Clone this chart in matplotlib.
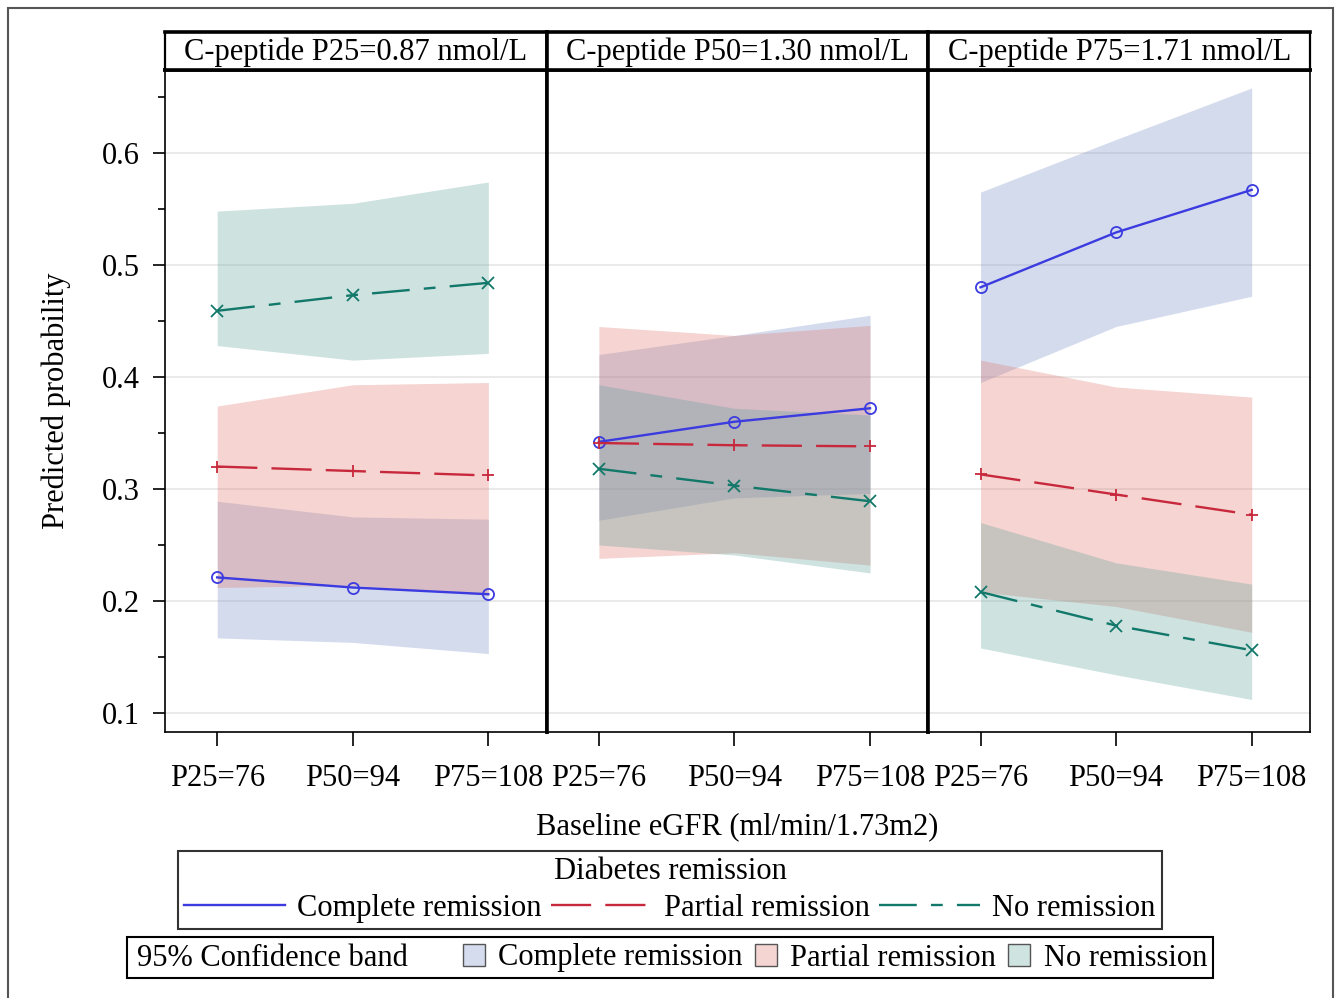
import matplotlib
matplotlib.use("Agg")
import matplotlib.pyplot as plt
from matplotlib.lines import Line2D
from matplotlib.patches import Patch, Rectangle
import numpy as np

plt.rcParams['font.family'] = ['Liberation Serif', 'DejaVu Serif']

# ---------------- data ----------------
panel_titles = ["C-peptide P25=0.87 nmol/L", "C-peptide P50=1.30 nmol/L", "C-peptide P75=1.71 nmol/L"]
x_labels = ["P25=76", "P50=94", "P75=108"]
groups = ["Complete remission", "Partial remission", "No remission"]

# predicted probability per panel (rows) and eGFR level (cols)
complete_est = [[0.221, 0.212, 0.206], [0.342, 0.360, 0.372], [0.480, 0.529, 0.567]]
complete_lo  = [[0.167, 0.163, 0.153], [0.272, 0.292, 0.296], [0.395, 0.445, 0.472]]
complete_hi  = [[0.289, 0.275, 0.273], [0.420, 0.437, 0.455], [0.565, 0.612, 0.658]]

partial_est = [[0.320, 0.316, 0.312], [0.341, 0.339, 0.338], [0.313, 0.295, 0.277]]
partial_lo  = [[0.212, 0.214, 0.205], [0.238, 0.243, 0.232], [0.208, 0.195, 0.172]]
partial_hi  = [[0.374, 0.393, 0.395], [0.445, 0.437, 0.446], [0.415, 0.391, 0.382]]

none_est = [[0.459, 0.473, 0.484], [0.318, 0.303, 0.289], [0.208, 0.178, 0.156]]
none_lo  = [[0.428, 0.415, 0.421], [0.250, 0.241, 0.225], [0.158, 0.134, 0.112]]
none_hi  = [[0.548, 0.555, 0.574], [0.393, 0.372, 0.366], [0.270, 0.234, 0.215]]

y_ticks = [0.1, 0.2, 0.3, 0.4, 0.5, 0.6]

# ---------------- style ----------------
line_colors = ["#3b3be0", "#c8283c", "#11786a"]
band_colors = ["#738ac6", "#de7369", "#5fa29b"]
band_alpha = 0.3
LW = 1.7
dash_styles = ["-", (0, (17, 6)), (0, (16, 6, 5, 6))]
markers = ["o", "+", "x"]

W, H = 1340, 998
fig = plt.figure(figsize=(W / 100, H / 100), dpi=100)

def fx(px):
    return px / W

def fy(py):
    return 1 - py / H

# outer frame
fig.patches.append(Rectangle((fx(8), fy(1010)), fx(1333) - fx(8), fy(8) - fy(1010),
                             transform=fig.transFigure, fill=False, edgecolor="#555555",
                             linewidth=1.5, zorder=0))

left, right = 165, 1310
top, bottom = 70, 732
strip_top = 32
pw = (right - left) / 3

FS = 22
ests = [complete_est, partial_est, none_est]
los = [complete_lo, partial_lo, none_lo]
his = [complete_hi, partial_hi, none_hi]
x = np.arange(3)

axes = []
for p in range(3):
    x0 = left + p * pw
    ax = fig.add_axes([fx(x0), fy(bottom), pw / W, (bottom - top) / H])
    axes.append(ax)
    for g in range(3):
        ax.fill_between(x, los[g][p], his[g][p], color=band_colors[g], alpha=band_alpha,
                        linewidth=0, zorder=2)
    for g in range(3):
        ax.plot(x, ests[g][p], color=line_colors[g], linestyle=dash_styles[g], linewidth=LW,
                marker=markers[g], markersize=9 if g else 8, markerfacecolor="none",
                markeredgecolor=line_colors[g], markeredgewidth=1.3, zorder=4)
    ax.set_xlim(-0.385, 2.43)
    ax.set_ylim(0.083, 0.674)
    ax.set_yticks(y_ticks)
    ax.set_yticks(np.arange(0.15, 0.7, 0.1), minor=True)
    ax.yaxis.grid(True, color="#e6e6e6", linewidth=1.2, zorder=0)
    ax.set_axisbelow(True)
    ax.set_xticks(x)
    ax.set_xticklabels(x_labels, fontsize=FS)
    ax.tick_params(axis="x", length=10, width=1.2, pad=13, direction="out")
    if p == 0:
        ax.tick_params(axis="y", which="major", length=9, width=1.2, labelsize=FS, pad=9)
        ax.tick_params(axis="y", which="minor", length=5, width=1.2)
        ax.set_yticklabels([f"{v:.1f}" for v in y_ticks])
        ax.set_ylabel("Predicted probability", fontsize=FS, labelpad=22)
    else:
        ax.tick_params(axis="y", which="both", left=False, labelleft=False)
    for s in ["left", "right", "bottom", "top"]:
        ax.spines[s].set_linewidth(1.2)
        ax.spines[s].set_color("black")
    if p > 0:
        ax.spines["left"].set_linewidth(2.6)
    if p < 2:
        ax.spines["right"].set_linewidth(2.6)
    ax.spines["top"].set_linewidth(2.6)

    # header strip
    sax = fig.add_axes([fx(x0), fy(top), pw / W, (top - strip_top) / H])
    sax.set_xticks([])
    sax.set_yticks([])
    for s in ["left", "right", "bottom", "top"]:
        sax.spines[s].set_linewidth(2.6)
    sax.spines["left"].set_linewidth(2.6 if p > 0 else 1.6)
    sax.spines["right"].set_linewidth(2.6 if p < 2 else 1.6)
    sax.text(0.5, 0.48, panel_titles[p], ha="center", va="center", fontsize=FS,
             transform=sax.transAxes)

fig.text(fx((left + right) / 2), fy(827), "Baseline eGFR (ml/min/1.73m2)", ha="center",
         va="center", fontsize=FS)

# legend 1: lines
h1 = [Line2D([0], [0], color=line_colors[g], linestyle=dash_styles[g], linewidth=LW)
      for g in range(3)]
leg1 = fig.legend(h1, groups, loc="center", bbox_to_anchor=(fx(670), fy(890)), ncol=3,
                  title="Diabetes remission", fontsize=FS, title_fontsize=FS,
                  frameon=True, fancybox=False, edgecolor="black", handlelength=3.3,
                  columnspacing=0.3, handletextpad=0.4, borderpad=0.2, labelspacing=0.25,
                  borderaxespad=0)
leg1.get_frame().set_linewidth(1.5)

# legend 2: bands
bx0, bx1, by0, by1 = 127, 1213, 937, 978
fig.patches.append(Rectangle((fx(bx0), fy(by1)), fx(bx1) - fx(bx0), fy(by0) - fy(by1),
                             transform=fig.transFigure, fill=False, edgecolor="black",
                             linewidth=1.5, zorder=3))
fig.text(fx(137), fy(958), "95% Confidence band", ha="left", va="center", fontsize=FS)
h2 = [Patch(facecolor=(0.3 * np.array(matplotlib.colors.to_rgb(band_colors[g])) + 0.7),
            edgecolor="#555555", linewidth=1.0) for g in range(3)]
leg2 = fig.legend(h2, groups, loc="center right", bbox_to_anchor=(fx(1210), fy(958)),
                  ncol=3, fontsize=FS, frameon=False, handlelength=0.7, handleheight=0.7,
                  columnspacing=0.4, handletextpad=0.45, borderaxespad=0, borderpad=0.1)

fig.savefig("out.png", dpi=100)
